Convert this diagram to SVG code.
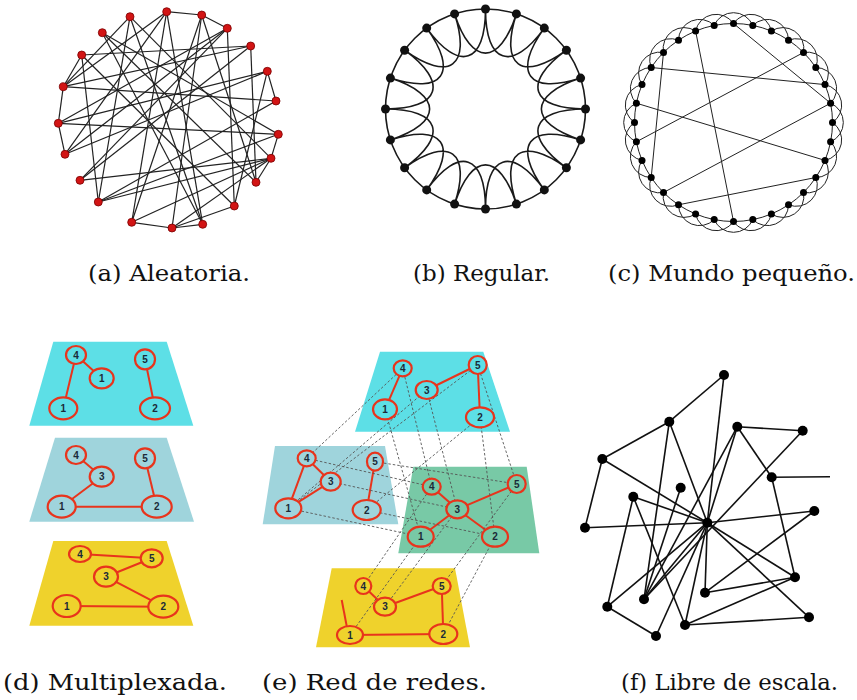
<svg xmlns="http://www.w3.org/2000/svg" width="857" height="700" viewBox="0 0 857 700">
<style>
.cap{font-family:"DejaVu Serif","Liberation Serif",serif;fill:#111}
.ea{stroke:#222;stroke-width:1.2;fill:none}
.na{fill:#d21414;stroke:#7a0000;stroke-width:0.8}
.eb{stroke:#1a1a1a;stroke-width:1.6;fill:none}
.nb{fill:#111}
.ec{stroke:#222;stroke-width:1;fill:none}
.nc{fill:#000}
.red{stroke:#e8341c;stroke-width:2;fill:none}
.rn{stroke:#e8341c;stroke-width:2.2}
.lb{font-family:"Liberation Sans",Arial,sans-serif;font-weight:bold;font-size:10px;fill:#1b2a38;text-anchor:middle}
.dash{stroke:#555;stroke-width:0.9;stroke-dasharray:2.5 2;fill:none}
.ef{stroke:#111;stroke-width:1.6;fill:none}
.nf{fill:#000}
.cy{fill:#5ddfe6}.bl{fill:#9fd4dc}.gr{fill:#78c9a6}.ye{fill:#efd22c}
</style>

<!-- (a) Aleatoria -->
<g id="panel-a">
<g id="a-edges" class="ea">
<line x1="166.7" y1="11.7" x2="201.7" y2="15"/>
<line x1="201.7" y1="15" x2="227.3" y2="28.3"/>
<line x1="267.3" y1="71.3" x2="276" y2="101"/>
<line x1="278.3" y1="134.3" x2="271" y2="158.3"/>
<line x1="271" y1="158.3" x2="256" y2="182.3"/>
<line x1="131.7" y1="222.3" x2="172" y2="228"/>
<line x1="172" y1="228" x2="202.7" y2="224.3"/>
<line x1="81.7" y1="55" x2="63.3" y2="86.7"/>
<line x1="63.3" y1="86.7" x2="58.3" y2="123.3"/>
<line x1="58.3" y1="123.3" x2="65" y2="154.3"/>
<line x1="166.7" y1="11.7" x2="63.3" y2="86.7"/>
<line x1="166.7" y1="11.7" x2="131.7" y2="222.3"/>
<line x1="166.7" y1="11.7" x2="202.7" y2="224.3"/>
<line x1="166.7" y1="11.7" x2="65" y2="154.3"/>
<line x1="201.7" y1="15" x2="172" y2="228"/>
<line x1="201.7" y1="15" x2="131.7" y2="222.3"/>
<line x1="201.7" y1="15" x2="256" y2="182.3"/>
<line x1="130" y1="16.7" x2="63.3" y2="86.7"/>
<line x1="130" y1="16.7" x2="98.3" y2="202"/>
<line x1="130" y1="16.7" x2="271" y2="158.3"/>
<line x1="130" y1="16.7" x2="202.7" y2="224.3"/>
<line x1="227.3" y1="28.3" x2="65" y2="154.3"/>
<line x1="227.3" y1="28.3" x2="234.3" y2="206"/>
<line x1="227.3" y1="28.3" x2="58.3" y2="123.3"/>
<line x1="102.3" y1="32.7" x2="278.3" y2="134.3"/>
<line x1="102.3" y1="32.7" x2="202.7" y2="224.3"/>
<line x1="250.7" y1="46" x2="63.3" y2="86.7"/>
<line x1="250.7" y1="46" x2="256" y2="182.3"/>
<line x1="250.7" y1="46" x2="80" y2="180.3"/>
<line x1="81.7" y1="55" x2="98.3" y2="202"/>
<line x1="81.7" y1="55" x2="250.7" y2="46"/>
<line x1="267.3" y1="71.3" x2="58.3" y2="123.3"/>
<line x1="267.3" y1="71.3" x2="65" y2="154.3"/>
<line x1="63.3" y1="86.7" x2="276" y2="101"/>
<line x1="58.3" y1="123.3" x2="278.3" y2="134.3"/>
<line x1="80" y1="180.3" x2="271" y2="158.3"/>
<line x1="98.3" y1="202" x2="271" y2="158.3"/>
<line x1="131.7" y1="222.3" x2="271" y2="158.3"/>
<line x1="172" y1="228" x2="271" y2="158.3"/>
<line x1="234.3" y1="206" x2="81.7" y2="55"/>
<line x1="256" y1="182.3" x2="102.3" y2="32.7"/>
<line x1="276" y1="101" x2="98.3" y2="202"/>
<line x1="278.3" y1="134.3" x2="98.3" y2="202"/>
<line x1="234.3" y1="206" x2="172" y2="228"/>
<line x1="267.3" y1="71.3" x2="234.3" y2="206"/>
<line x1="80" y1="180.3" x2="227.3" y2="28.3"/>
</g>
<g id="a-nodes" class="na">
<circle cx="166.7" cy="11.7" r="4"/><circle cx="201.7" cy="15" r="4"/><circle cx="130" cy="16.7" r="4"/>
<circle cx="227.3" cy="28.3" r="4"/><circle cx="102.3" cy="32.7" r="4"/><circle cx="250.7" cy="46" r="4"/>
<circle cx="81.7" cy="55" r="4"/><circle cx="267.3" cy="71.3" r="4"/><circle cx="63.3" cy="86.7" r="4"/>
<circle cx="276" cy="101" r="4"/><circle cx="58.3" cy="123.3" r="4"/><circle cx="278.3" cy="134.3" r="4"/>
<circle cx="65" cy="154.3" r="4"/><circle cx="271" cy="158.3" r="4"/><circle cx="80" cy="180.3" r="4"/>
<circle cx="256" cy="182.3" r="4"/><circle cx="98.3" cy="202" r="4"/><circle cx="234.3" cy="206" r="4"/>
<circle cx="131.7" cy="222.3" r="4"/><circle cx="202.7" cy="224.3" r="4"/><circle cx="172" cy="228" r="4"/>
</g>
</g>

<!-- (b) Regular -->
<g id="panel-b" transform="translate(485.5,109)">
<circle class="eb" cx="0" cy="0" r="100"/>
<path class="eb" d="M0,-100 C0,-45 26.5,-36.4 58.8,-80.9 M30.9,-95.1 C13.9,-42.8 36.4,-26.5 80.9,-58.8 M58.8,-80.9 C26.5,-36.4 42.8,-13.9 95.1,-30.9 M80.9,-58.8 C36.4,-26.5 45,0 100,0 M95.1,-30.9 C42.8,-13.9 42.8,13.9 95.1,30.9 M100,0 C45,0 36.4,26.5 80.9,58.8 M95.1,30.9 C42.8,13.9 26.5,36.4 58.8,80.9 M80.9,58.8 C36.4,26.5 13.9,42.8 30.9,95.1 M58.8,80.9 C26.5,36.4 0,45 0,100 M30.9,95.1 C13.9,42.8 -13.9,42.8 -30.9,95.1 M0,100 C0,45 -26.5,36.4 -58.8,80.9 M-30.9,95.1 C-13.9,42.8 -36.4,26.5 -80.9,58.8 M-58.8,80.9 C-26.5,36.4 -42.8,13.9 -95.1,30.9 M-80.9,58.8 C-36.4,26.5 -45,0 -100,0 M-95.1,30.9 C-42.8,13.9 -42.8,-13.9 -95.1,-30.9 M-100,0 C-45,0 -36.4,-26.5 -80.9,-58.8 M-95.1,-30.9 C-42.8,-13.9 -26.5,-36.4 -58.8,-80.9 M-80.9,-58.8 C-36.4,-26.5 -13.9,-42.8 -30.9,-95.1 M-58.8,-80.9 C-26.5,-36.4 0,-45 0,-100 M-30.9,-95.1 C-13.9,-42.8 13.9,-42.8 30.9,-95.1"/>
<g class="nb">
<circle cx="0" cy="-100" r="4.5"/><circle cx="30.9" cy="-95.1" r="4.5"/><circle cx="58.8" cy="-80.9" r="4.5"/><circle cx="80.9" cy="-58.8" r="4.5"/><circle cx="95.1" cy="-30.9" r="4.5"/>
<circle cx="100" cy="0" r="4.5"/><circle cx="95.1" cy="30.9" r="4.5"/><circle cx="80.9" cy="58.8" r="4.5"/><circle cx="58.8" cy="80.9" r="4.5"/><circle cx="30.9" cy="95.1" r="4.5"/>
<circle cx="0" cy="100" r="4.5"/><circle cx="-30.9" cy="95.1" r="4.5"/><circle cx="-58.8" cy="80.9" r="4.5"/><circle cx="-80.9" cy="58.8" r="4.5"/><circle cx="-95.1" cy="30.9" r="4.5"/>
<circle cx="-100" cy="0" r="4.5"/><circle cx="-95.1" cy="-30.9" r="4.5"/><circle cx="-80.9" cy="-58.8" r="4.5"/><circle cx="-58.8" cy="-80.9" r="4.5"/><circle cx="-30.9" cy="-95.1" r="4.5"/>
</g>
</g>

<!-- (c) Mundo pequeño -->
<g id="panel-c" transform="translate(733.5,122.5)">
<circle class="ec" cx="0" cy="0" r="99"/>
<path class="ec" d="M0,-99 A21,21 0 0 1 37.9,-91.5 M19.3,-97.1 A21,21 0 0 1 55,-82.3 M37.9,-91.5 A21,21 0 0 1 70,-70 M55,-82.3 A21,21 0 0 1 82.3,-55 M70,-70 A21,21 0 0 1 91.5,-37.9 M82.3,-55 A21,21 0 0 1 97.1,-19.3 M91.5,-37.9 A21,21 0 0 1 99,0 M97.1,-19.3 A21,21 0 0 1 97.1,19.3 M99,0 A21,21 0 0 1 91.5,37.9 M97.1,19.3 A21,21 0 0 1 82.3,55 M91.5,37.9 A21,21 0 0 1 70,70 M82.3,55 A21,21 0 0 1 55,82.3 M70,70 A21,21 0 0 1 37.9,91.5 M55,82.3 A21,21 0 0 1 19.3,97.1 M37.9,91.5 A21,21 0 0 1 0,99 M19.3,97.1 A21,21 0 0 1 -19.3,97.1 M0,99 A21,21 0 0 1 -37.9,91.5 M-19.3,97.1 A21,21 0 0 1 -55,82.3 M-37.9,91.5 A21,21 0 0 1 -70,70 M-55,82.3 A21,21 0 0 1 -82.3,55 M-70,70 A21,21 0 0 1 -91.5,37.9 M-82.3,55 A21,21 0 0 1 -97.1,19.3 M-91.5,37.9 A21,21 0 0 1 -99,0 M-97.1,19.3 A21,21 0 0 1 -97.1,-19.3 M-99,0 A21,21 0 0 1 -91.5,-37.9 M-97.1,-19.3 A21,21 0 0 1 -82.3,-55 M-91.5,-37.9 A21,21 0 0 1 -70,-70 M-82.3,-55 A21,21 0 0 1 -55,-82.3 M-70,-70 A21,21 0 0 1 -37.9,-91.5 M-55,-82.3 A21,21 0 0 1 -19.3,-97.1 M-37.9,-91.5 A21,21 0 0 1 0,-99 M-19.3,-97.1 A21,21 0 0 1 19.3,-97.1"/>
<g class="ec">
<line x1="-37.9" y1="-91.5" x2="0" y2="99"/>
<line x1="0" y1="-99" x2="97.1" y2="-19.3"/>
<line x1="-82.3" y1="-55" x2="91.5" y2="-37.9"/>
<line x1="70" y1="-70" x2="-97.1" y2="19.3"/>
<line x1="-70" y1="-70" x2="-82.3" y2="55"/>
<line x1="-97.1" y1="-19.3" x2="91.5" y2="37.9"/>
<line x1="97.1" y1="-19.3" x2="-70" y2="70"/>
<line x1="-55" y1="82.3" x2="82.3" y2="55"/>
</g>
<g class="nc">
<circle cx="0" cy="-99" r="3.5"/><circle cx="19.3" cy="-97.1" r="3.5"/><circle cx="37.9" cy="-91.5" r="3.5"/><circle cx="55" cy="-82.3" r="3.5"/>
<circle cx="70" cy="-70" r="3.5"/><circle cx="82.3" cy="-55" r="3.5"/><circle cx="91.5" cy="-37.9" r="3.5"/><circle cx="97.1" cy="-19.3" r="3.5"/>
<circle cx="99" cy="0" r="3.5"/><circle cx="97.1" cy="19.3" r="3.5"/><circle cx="91.5" cy="37.9" r="3.5"/><circle cx="82.3" cy="55" r="3.5"/>
<circle cx="70" cy="70" r="3.5"/><circle cx="55" cy="82.3" r="3.5"/><circle cx="37.9" cy="91.5" r="3.5"/><circle cx="19.3" cy="97.1" r="3.5"/>
<circle cx="0" cy="99" r="3.5"/><circle cx="-19.3" cy="97.1" r="3.5"/><circle cx="-37.9" cy="91.5" r="3.5"/><circle cx="-55" cy="82.3" r="3.5"/>
<circle cx="-70" cy="70" r="3.5"/><circle cx="-82.3" cy="55" r="3.5"/><circle cx="-91.5" cy="37.9" r="3.5"/><circle cx="-97.1" cy="19.3" r="3.5"/>
<circle cx="-99" cy="0" r="3.5"/><circle cx="-97.1" cy="-19.3" r="3.5"/><circle cx="-91.5" cy="-37.9" r="3.5"/><circle cx="-82.3" cy="-55" r="3.5"/>
<circle cx="-70" cy="-70" r="3.5"/><circle cx="-55" cy="-82.3" r="3.5"/><circle cx="-37.9" cy="-91.5" r="3.5"/><circle cx="-19.3" cy="-97.1" r="3.5"/>
</g>
</g>

<!-- (d) Multiplexada -->
<g id="panel-d">
<g id="d-layer1">
<polygon class="cy" points="53.3,341.7 166.7,341.7 193.3,425.7 29.3,425.7"/>
<g class="red"><line x1="76" y1="355" x2="101.7" y2="378.3"/><line x1="76" y1="355" x2="63.3" y2="408.3"/><line x1="145" y1="359.3" x2="155" y2="408.3"/></g>
<g class="rn cy">
<ellipse cx="76" cy="355" rx="10" ry="9"/><ellipse cx="101.7" cy="378.3" rx="12" ry="10"/><ellipse cx="63.3" cy="408.3" rx="14" ry="11"/><ellipse cx="145" cy="359.3" rx="10" ry="10"/><ellipse cx="155" cy="408.3" rx="15" ry="11"/>
</g>
<g class="lb"><text x="76" y="358.5">4</text><text x="101.7" y="381.8">1</text><text x="63.3" y="411.8">1</text><text x="145" y="362.8">5</text><text x="155" y="411.8">2</text></g>
</g>
<g id="d-layer2">
<polygon class="bl" points="55,437.7 166.7,437.7 194,521.7 29.3,521.7"/>
<g class="red"><line x1="76" y1="455" x2="101.7" y2="476.7"/><line x1="101.7" y1="476.7" x2="61.7" y2="506.7"/><line x1="61.7" y1="506.7" x2="156.7" y2="506.7"/><line x1="145" y1="458.3" x2="156.7" y2="506.7"/></g>
<g class="rn bl">
<ellipse cx="76" cy="455" rx="10" ry="9"/><ellipse cx="101.7" cy="476.7" rx="12" ry="10"/><ellipse cx="145" cy="458.3" rx="10" ry="10"/><ellipse cx="61.7" cy="506.7" rx="14" ry="11"/><ellipse cx="156.7" cy="506.7" rx="15" ry="11"/>
</g>
<g class="lb"><text x="76" y="458.5">4</text><text x="101.7" y="480.2">3</text><text x="145" y="461.8">5</text><text x="61.7" y="510.2">1</text><text x="156.7" y="510.2">2</text></g>
</g>
<g id="d-layer3">
<polygon class="ye" points="53.3,541 166.7,541 193.3,625.7 29.3,625.7"/>
<g class="red"><line x1="80" y1="554" x2="151.7" y2="558.3"/><line x1="151.7" y1="558.3" x2="106" y2="576.7"/><line x1="106" y1="576.7" x2="163.3" y2="606.7"/><line x1="66.7" y1="606" x2="163.3" y2="606.7"/></g>
<g class="rn ye">
<ellipse cx="80" cy="554" rx="11" ry="8"/><ellipse cx="151.7" cy="558.3" rx="11" ry="9"/><ellipse cx="106" cy="576.7" rx="12" ry="10"/><ellipse cx="66.7" cy="606" rx="14" ry="11"/><ellipse cx="163.3" cy="606.7" rx="15" ry="11"/>
</g>
<g class="lb"><text x="80" y="557.5">4</text><text x="151.7" y="561.8">5</text><text x="106" y="580.2">3</text><text x="66.7" y="609.5">1</text><text x="163.3" y="610.2">2</text></g>
</g>
</g>

<!-- (e) Red de redes -->
<g id="panel-e">
<polygon class="cy" points="380,351.7 483.3,351.7 510,431.7 355,431.7"/>
<polygon class="bl" points="275,446 385,446 398.3,524.3 262.7,524.3"/>
<polygon class="gr" points="413.3,466.7 526.7,466.7 539.3,553.3 398.3,553.3"/>
<polygon class="ye" points="331.7,568.3 455,568.3 470,647.3 316,647.3"/>
<g id="e-intra" class="red">
<line x1="402.7" y1="368.3" x2="385" y2="409.3"/><line x1="426.7" y1="390" x2="477.7" y2="365"/><line x1="477.7" y1="365" x2="480" y2="417.3"/>
<line x1="306.7" y1="458.3" x2="330.7" y2="481.7"/><line x1="306.7" y1="458.3" x2="288.3" y2="508.3"/><line x1="330.7" y1="481.7" x2="288.3" y2="508.3"/><line x1="375" y1="461.7" x2="366.7" y2="510"/>
<line x1="431.7" y1="486.7" x2="457.3" y2="509.3"/><line x1="457.3" y1="509.3" x2="516.7" y2="484"/><line x1="457.3" y1="509.3" x2="420.7" y2="536.7"/><line x1="457.3" y1="509.3" x2="495" y2="536.7"/>
<line x1="363.3" y1="586" x2="385" y2="606.7"/><line x1="385" y1="606.7" x2="441.7" y2="586"/><line x1="441.7" y1="586" x2="443.3" y2="634"/><line x1="350" y1="635" x2="443.3" y2="634"/><line x1="341.7" y1="600" x2="346.7" y2="626"/>
</g>
<g id="e-interlayer" class="dash">
<line x1="402.7" y1="368.3" x2="306.7" y2="458.3"/>
<line x1="477.7" y1="365" x2="288.3" y2="508.3"/>
<line x1="426.7" y1="390" x2="292" y2="505"/>
<line x1="480" y1="417.3" x2="366.7" y2="510"/>
<line x1="402.7" y1="368.3" x2="431.7" y2="486.7"/>
<line x1="477.7" y1="365" x2="516.7" y2="484"/>
<line x1="385" y1="409.3" x2="420.7" y2="536.7"/>
<line x1="426.7" y1="390" x2="457.3" y2="509.3"/>
<line x1="480" y1="417.3" x2="495" y2="536.7"/>
<line x1="306.7" y1="458.3" x2="431.7" y2="486.7"/>
<line x1="375" y1="461.7" x2="516.7" y2="484"/>
<line x1="330.7" y1="481.7" x2="457.3" y2="509.3"/>
<line x1="288.3" y1="508.3" x2="420.7" y2="536.7"/>
<line x1="366.7" y1="510" x2="495" y2="536.7"/>
<line x1="420.7" y1="536.7" x2="350" y2="635"/>
<line x1="431.7" y1="486.7" x2="363.3" y2="586"/>
<line x1="516.7" y1="484" x2="441.7" y2="586"/>
<line x1="495" y1="536.7" x2="443.3" y2="634"/>
<line x1="457.3" y1="509.3" x2="385" y2="606.7"/>
</g>
<g id="e-nodes" class="rn">
<ellipse class="cy" cx="402.7" cy="368.3" rx="9" ry="8"/><ellipse class="cy" cx="477.7" cy="365" rx="9" ry="9"/><ellipse class="cy" cx="426.7" cy="390" rx="11" ry="9"/><ellipse class="cy" cx="385" cy="409.3" rx="12" ry="10"/><ellipse class="cy" cx="480" cy="417.3" rx="14" ry="10"/>
<ellipse class="bl" cx="306.7" cy="458.3" rx="9" ry="8"/><ellipse class="bl" cx="375" cy="461.7" rx="8" ry="9"/><ellipse class="bl" cx="330.7" cy="481.7" rx="10" ry="9"/><ellipse class="bl" cx="288.3" cy="508.3" rx="13" ry="10"/><ellipse class="bl" cx="366.7" cy="510" rx="14" ry="10"/>
<ellipse class="gr" cx="431.7" cy="486.7" rx="9" ry="8"/><ellipse class="gr" cx="516.7" cy="484" rx="9" ry="9"/><ellipse class="gr" cx="457.3" cy="509.3" rx="11" ry="9"/><ellipse class="gr" cx="420.7" cy="536.7" rx="13" ry="10"/><ellipse class="gr" cx="495" cy="536.7" rx="13" ry="10"/>
<ellipse class="ye" cx="363.3" cy="586" rx="8" ry="8"/><ellipse class="ye" cx="441.7" cy="586" rx="9" ry="8"/><ellipse class="ye" cx="385" cy="606.7" rx="11" ry="9"/><ellipse class="ye" cx="350" cy="635" rx="13" ry="9"/><ellipse class="ye" cx="443.3" cy="634" rx="14" ry="10"/>
</g>
<g class="lb">
<text x="402.7" y="371.8">4</text><text x="477.7" y="368.5">5</text><text x="426.7" y="393.5">3</text><text x="385" y="412.8">1</text><text x="480" y="420.8">2</text>
<text x="306.7" y="461.8">4</text><text x="375" y="465.2">5</text><text x="330.7" y="485.2">3</text><text x="288.3" y="511.8">1</text><text x="366.7" y="513.5">2</text>
<text x="431.7" y="490.2">4</text><text x="516.7" y="487.5">5</text><text x="457.3" y="512.8">3</text><text x="420.7" y="540.2">1</text><text x="495" y="540.2">2</text>
<text x="363.3" y="589.5">4</text><text x="441.7" y="589.5">5</text><text x="385" y="610.2">3</text><text x="350" y="638.5">1</text><text x="443.3" y="637.5">2</text>
</g>
</g>

<!-- (f) Libre de escala -->
<g id="panel-f">
<g id="f-edges" class="ef">
<line x1="724" y1="375" x2="669.3" y2="421.7"/><line x1="724" y1="375" x2="707.3" y2="522.7"/>
<line x1="669.3" y1="421.7" x2="602.3" y2="459"/><line x1="669.3" y1="421.7" x2="707.3" y2="522.7"/><line x1="669.3" y1="421.7" x2="644" y2="599.3"/>
<line x1="737.3" y1="426.7" x2="802.7" y2="430.7"/><line x1="737.3" y1="426.7" x2="707.3" y2="522.7"/><line x1="737.3" y1="426.7" x2="771.7" y2="477.3"/><line x1="737.3" y1="426.7" x2="644" y2="599.3"/>
<line x1="802.7" y1="430.7" x2="644" y2="599.3"/>
<line x1="602.3" y1="459" x2="585" y2="527.7"/><line x1="602.3" y1="459" x2="707.3" y2="522.7"/>
<line x1="771.7" y1="477.3" x2="795" y2="577.3"/><line x1="771.7" y1="477.3" x2="830" y2="476.7"/>
<line x1="680.7" y1="487.7" x2="644" y2="599.3"/>
<line x1="633.3" y1="496.7" x2="707.3" y2="522.7"/><line x1="633.3" y1="496.7" x2="607.3" y2="606.7"/><line x1="633.3" y1="496.7" x2="685" y2="625"/>
<line x1="814.3" y1="511" x2="705" y2="592.7"/><line x1="814.3" y1="511" x2="707.3" y2="522.7"/>
<line x1="585" y1="527.7" x2="707.3" y2="522.7"/>
<line x1="795" y1="577.3" x2="707.3" y2="522.7"/><line x1="795" y1="577.3" x2="705" y2="592.7"/><line x1="795" y1="577.3" x2="685" y2="625"/>
<line x1="705" y1="592.7" x2="707.3" y2="522.7"/>
<line x1="644" y1="599.3" x2="707.3" y2="522.7"/>
<line x1="607.3" y1="606.7" x2="656" y2="636"/><line x1="607.3" y1="606.7" x2="707.3" y2="522.7"/>
<line x1="809" y1="617.3" x2="707.3" y2="522.7"/><line x1="809" y1="617.3" x2="685" y2="625"/>
<line x1="685" y1="625" x2="707.3" y2="522.7"/>
<line x1="656" y1="636" x2="707.3" y2="522.7"/>
</g>
<g id="f-nodes" class="nf">
<circle cx="707.3" cy="522.7" r="5"/>
<circle cx="724" cy="375" r="5"/><circle cx="669.3" cy="421.7" r="5"/><circle cx="737.3" cy="426.7" r="5"/><circle cx="802.7" cy="430.7" r="5"/>
<circle cx="602.3" cy="459" r="5"/><circle cx="771.7" cy="477.3" r="5"/><circle cx="680.7" cy="487.7" r="5"/><circle cx="633.3" cy="496.7" r="5"/>
<circle cx="814.3" cy="511" r="5"/><circle cx="585" cy="527.7" r="5"/><circle cx="795" cy="577.3" r="5"/><circle cx="705" cy="592.7" r="5"/>
<circle cx="644" cy="599.3" r="5"/><circle cx="607.3" cy="606.7" r="5"/><circle cx="809" cy="617.3" r="5"/><circle cx="685" cy="625" r="5"/><circle cx="656" cy="636" r="5"/>
</g>
</g>

<!-- captions -->
<g id="captions" class="cap">
<text x="88" y="281" font-size="23" textLength="162" lengthAdjust="spacingAndGlyphs">(a) Aleatoria.</text>
<text x="413" y="281" font-size="23" textLength="137" lengthAdjust="spacingAndGlyphs">(b) Regular.</text>
<text x="608" y="281" font-size="23" textLength="247" lengthAdjust="spacingAndGlyphs">(c) Mundo pequeño.</text>
<text x="3" y="690" font-size="23" textLength="224" lengthAdjust="spacingAndGlyphs">(d) Multiplexada.</text>
<text x="262" y="690" font-size="23" textLength="225" lengthAdjust="spacingAndGlyphs">(e) Red de redes.</text>
<text x="621" y="690" font-size="23" textLength="217" lengthAdjust="spacingAndGlyphs">(f) Libre de escala.</text>
</g>
</svg>
